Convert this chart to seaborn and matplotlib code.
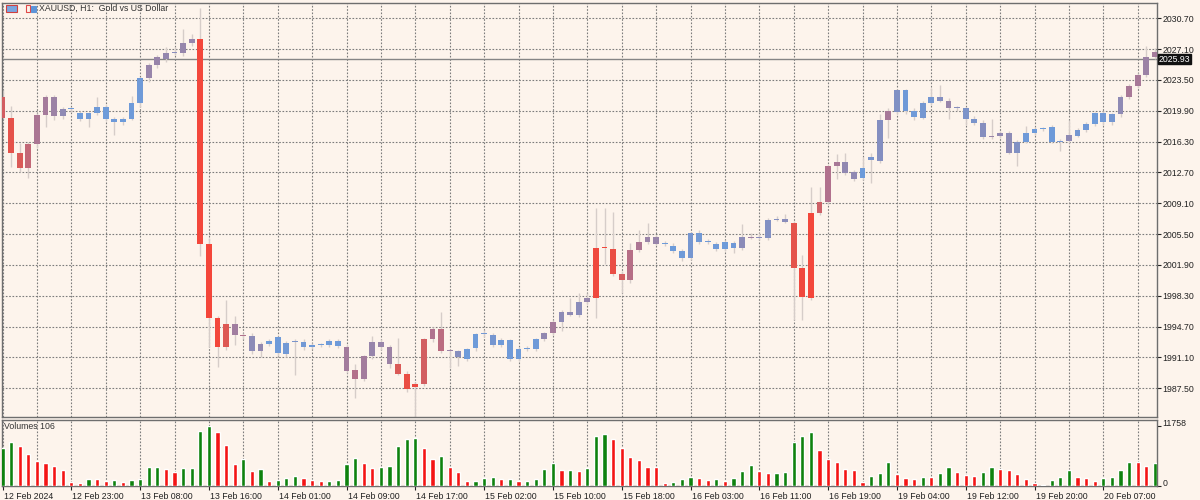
import numpy as np
import pandas as pd
import matplotlib.pyplot as plt
import seaborn as sns
from matplotlib.colors import LinearSegmentedColormap
from matplotlib.patches import Rectangle
from matplotlib.transforms import ScaledTranslation, blended_transform_factory

# XAUUSD H1 bars, 12 Feb 15:00 -> 20 Feb 13:00
opens = [2021.5, 2019.1, 2015.0, 2013.2, 2016.0, 2019.4, 2021.55, 2019.3, 2020.1, 2019.7,
         2018.95, 2019.6, 2020.4, 2018.9, 2018.6, 2019.0, 2020.8, 2023.7, 2025.25, 2025.9,
         2026.7, 2026.6, 2027.8, 2028.3, 2004.35, 1995.7, 1992.3, 1995.0, 1993.7, 1993.6,
         1991.85, 1992.7, 1993.45, 1991.5, 1992.95, 1992.3, 1992.55, 1992.55, 1992.5, 1993.0,
         1992.3, 1989.65, 1988.55, 1991.25, 1992.95, 1992.3, 1990.3, 1989.2, 1987.6, 1988.0,
         1993.2, 1994.4, 1991.85, 1991.85, 1990.95, 1992.2, 1993.8, 1993.7, 1992.55, 1993.1,
         1990.9, 1992.1, 1992.1, 1993.2, 1993.9, 1995.3, 1996.4, 1996.05, 1997.6, 1998.1,
         2003.85, 2003.75, 2000.8, 2000.2, 2003.7, 2004.6, 2005.2, 2004.4, 2004.1, 2003.55,
         2002.7, 2005.6, 2004.6, 2004.3, 2003.75, 2004.5, 2003.85, 2005.1, 2005.05, 2005.0,
         2007.2, 2007.3, 2006.75, 2001.5, 1998.0, 2008.0, 2009.2, 2013.4, 2013.9, 2012.7,
         2012.0, 2014.1, 2014.05, 2018.8, 2019.8, 2022.3, 2019.9, 2019.1, 2020.85, 2021.5,
         2021.1, 2020.2, 2020.2, 2018.95, 2018.45, 2016.8, 2016.95, 2017.35, 2015.0, 2016.3,
         2017.35, 2017.75, 2018.05, 2016.3, 2016.4, 2017.0, 2017.65, 2018.35, 2019.6, 2018.55,
         2019.5, 2021.55, 2022.85, 2024.1, 2026.15]
highs = [2022.3, 2020.5, 2016.1, 2016.3, 2019.6, 2021.8, 2021.7, 2020.4, 2020.4, 2019.9,
         2019.8, 2021.55, 2020.6, 2019.2, 2019.2, 2021.6, 2023.9, 2025.5, 2026.4, 2027.4,
         2027.3, 2029.5, 2028.9, 2031.9, 2005.0, 1995.9, 1997.8, 1995.9, 1994.0, 1993.9,
         1992.9, 1993.3, 1993.6, 1993.0, 1993.3, 1993.2, 1992.8, 1992.8, 1993.2, 1993.3,
         1992.5, 1990.3, 1991.4, 1993.6, 1993.2, 1992.6, 1993.4, 1989.5, 1988.2, 1993.4,
         1994.7, 1996.45, 1992.1, 1992.0, 1992.2, 1994.0, 1994.3, 1994.0, 1993.4, 1993.3,
         1992.3, 1992.4, 1993.4, 1994.1, 1995.5, 1996.7, 1998.0, 1998.6, 1998.6, 2008.5,
         2008.5, 2008.1, 2001.2, 2004.5, 2006.0, 2006.75, 2005.4, 2004.7, 2004.5, 2003.8,
         2005.8, 2006.0, 2004.9, 2004.6, 2004.8, 2004.7, 2006.7, 2005.6, 2005.6, 2007.4,
         2007.6, 2007.9, 2007.0, 2003.05, 2011.0, 2011.0, 2013.6, 2014.9, 2015.0, 2013.0,
         2014.5, 2015.0, 2019.5, 2020.2, 2022.5, 2022.5, 2020.2, 2021.0, 2022.6, 2022.9,
         2021.4, 2020.5, 2020.4, 2019.3, 2018.8, 2019.0, 2017.6, 2017.5, 2016.5, 2018.1,
         2018.0, 2018.0, 2018.3, 2016.6, 2018.8, 2017.9, 2018.6, 2019.8, 2019.9, 2019.7,
         2021.8, 2023.0, 2024.3, 2027.45, 2027.2]
lows = [2019.0, 2013.3, 2012.8, 2012.05, 2015.6, 2018.05, 2018.8, 2018.9, 2019.8, 2018.7,
        2018.0, 2019.4, 2018.7, 2017.1, 2018.3, 2018.8, 2020.4, 2023.3, 2024.9, 2025.6,
        2026.4, 2026.3, 2027.5, 2002.95, 1992.35, 1990.0, 1992.0, 1992.5, 1993.2, 1991.5,
        1991.2, 1992.4, 1991.3, 1991.2, 1989.05, 1992.0, 1992.1, 1992.3, 1992.3, 1992.2,
        1989.3, 1986.35, 1988.3, 1990.9, 1992.0, 1989.9, 1989.0, 1987.1, 1984.2, 1987.8,
        1992.9, 1991.6, 1989.85, 1990.1, 1990.7, 1991.9, 1993.5, 1992.3, 1992.3, 1990.7,
        1990.7, 1991.8, 1991.9, 1993.0, 1993.7, 1994.2, 1995.9, 1995.8, 1997.4, 1995.7,
        2002.0, 2000.6, 1998.6, 1999.8, 2003.4, 2004.3, 2004.2, 2004.1, 2003.3, 2002.4,
        2002.5, 2004.3, 2004.3, 2003.5, 2003.5, 2003.3, 2003.6, 2004.9, 2004.8, 2004.8,
        2007.0, 2006.8, 1995.5, 1995.5, 1997.8, 2007.7, 2009.0, 2011.9, 2012.4, 2011.7,
        2011.8, 2011.45, 2013.8, 2016.7, 2019.5, 2019.5, 2018.8, 2018.9, 2020.6, 2020.9,
        2019.0, 2019.9, 2018.2, 2018.2, 2016.6, 2016.6, 2016.7, 2014.9, 2013.4, 2016.1,
        2017.1, 2017.6, 2016.1, 2015.2, 2016.2, 2016.8, 2017.4, 2018.1, 2018.3, 2018.2,
        2019.2, 2021.3, 2022.6, 2023.9, 2025.9]
closes = [2019.1, 2015.0, 2013.2, 2016.0, 2019.4, 2021.55, 2019.3, 2020.1, 2020.2, 2018.95,
          2019.6, 2020.3, 2019.0, 2018.6, 2019.0, 2020.85, 2023.7, 2025.25, 2026.2, 2026.7,
          2026.75, 2027.8, 2028.3, 2004.35, 1995.67, 1992.3, 1995.0, 1993.7, 1993.6, 1991.85,
          1992.7, 1993.0, 1991.6, 1992.75, 1992.9, 1992.95, 1992.3, 1992.6, 1993.0, 1992.4,
          1989.5, 1988.55, 1991.25, 1992.95, 1992.3, 1990.3, 1989.2, 1987.45, 1988.0, 1993.2,
          1994.4, 1991.9, 1991.8, 1991.2, 1992.1, 1993.8, 1993.85, 1992.55, 1993.1, 1990.9,
          1992.1, 1992.2, 1993.2, 1993.9, 1995.3, 1996.45, 1996.05, 1997.6, 1998.0, 2003.85,
          2003.9, 2000.8, 2000.2, 2003.7, 2004.6, 2005.2, 2004.4, 2004.45, 2003.55, 2002.7,
          2005.6, 2004.6, 2004.55, 2003.75, 2004.55, 2003.85, 2005.2, 2005.15, 2005.0, 2007.2,
          2007.3, 2006.95, 2001.5, 1998.2, 2007.95, 2009.2, 2013.4, 2013.9, 2012.6, 2011.95,
          2013.2, 2014.55, 2018.8, 2019.85, 2022.3, 2019.85, 2019.15, 2020.85, 2021.5, 2021.1,
          2020.2, 2020.25, 2018.95, 2018.45, 2016.8, 2016.9, 2017.35, 2015.0, 2016.3, 2017.35,
          2017.75, 2017.85, 2016.3, 2016.4, 2017.1, 2017.65, 2018.35, 2019.6, 2018.55, 2019.5,
          2021.55, 2022.85, 2024.1, 2026.15, 2026.8]
volumes = [7380, 8690, 7840, 6340, 4965, 4510, 3920, 3135, 780, 590,
           1370, 1305, 980, 1110, 850, 1110, 1305, 3660, 3720, 3400,
           2810, 3530, 3560, 10710, 11758, 10580, 8035, 4245, 5355, 3005,
           3330, 980, 1175, 1570, 2025, 1570, 1175, 980, 990, 1175,
           4375, 5485, 4440, 3590, 3660, 3920, 7840, 9145, 9340, 7380,
           5290, 5945, 3790, 2680, 915, 930, 1635, 1830, 1305, 1320,
           940, 960, 1370, 3330, 4510, 3070, 3140, 2875, 3525, 9735,
           10125, 9210, 7445, 5685, 5030, 3790, 3660, 590, 785, 1305,
           1830, 1570, 1175, 1370, 1045, 1500, 2940, 4115, 2875, 2480,
           2545, 2810, 8620, 9800, 10645, 7055, 5355, 4770, 3265, 3200,
           850, 1895, 2545, 4640, 2350, 1500, 1435, 1765, 1700, 2615,
           3660, 2680, 2155, 2025, 2680, 3725, 3265, 3070, 2415, 1370,
           655, 260, 1175, 1765, 3135, 1765, 1500, 980, 1500, 1765,
           3135, 4770, 4705, 3920, 4505]

price_ticks = [2030.70, 2027.10, 2023.50, 2019.90, 2016.30, 2012.70, 2009.10,
               2005.50, 2001.90, 1998.30, 1994.70, 1991.10, 1987.50]
time_labels = ["12 Feb 2024", "12 Feb 23:00", "13 Feb 08:00", "13 Feb 16:00", "14 Feb 01:00",
               "14 Feb 09:00", "14 Feb 17:00", "15 Feb 02:00", "15 Feb 10:00", "15 Feb 18:00",
               "16 Feb 03:00", "16 Feb 11:00", "16 Feb 19:00", "19 Feb 04:00", "19 Feb 12:00",
               "19 Feb 20:00", "20 Feb 07:00"]
last_price = 2025.93
last_tick_volume = 106
max_volume = 11758

bg = "#fdf4ec"
grid_color = "#7c7c7c"
frame_color = "#6e6e6e"
sns.set_style("white", {"axes.facecolor": bg, "figure.facecolor": bg,
                        "axes.edgecolor": frame_color})
plt.rcParams["font.family"] = ["Liberation Sans", "DejaVu Sans"]

fig = plt.figure(figsize=(12, 5), dpi=100)
ax = fig.add_axes([2 / 1200, 83 / 500, 1155 / 1200, 414 / 500])
vax = fig.add_axes([2 / 1200, 14 / 500, 1155 / 1200, 66 / 500])

idx = np.arange(len(closes))
o = np.array(opens)
c = np.array(closes)
vol = np.array(volumes)

# candles are tinted by tick volume: quiet = blue, busy = red
vol_cmap = LinearSegmentedColormap.from_list(
    "vol", [(0.0, "#6b9cdc"), (0.12, "#6f9ad8"), (0.3, "#9686ac"), (0.45, "#b0728e"),
            (0.7, "#e0564f"), (0.85, "#f2473b"), (1.0, "#f4463a")])
candle_colors = vol_cmap(vol / vol.max())

body_lo = np.minimum(o, c)
body_h = np.maximum(np.abs(c - o), 0.12)

ax.vlines(idx, lows, highs, color="#d6cdc9", lw=1, zorder=2)
ax.bar(idx, body_h, bottom=body_lo, width=0.68, color=candle_colors, linewidth=0, zorder=3)

ax.axhline(last_price, color="#858585", lw=1, zorder=1.5)

xlim = (-0.06, 134.24)
ax.set_xlim(*xlim)
ax.set_ylim(1984.15, 2032.49)

ax.set_xticks(range(0, len(closes), 4))
ax.tick_params(axis="x", length=0, labelbottom=False)
ax.yaxis.tick_right()
ax.set_yticks(price_ticks)
ax.set_yticklabels([f"{p:.2f}" for p in price_ticks])
ax.tick_params(axis="y", length=3, width=0.8, pad=1, labelsize=6.3, colors="#222222",
               right=True)
ax.grid(True, color=grid_color, linestyle=(0, (1.5, 1.5)), linewidth=0.8)
ax.set_axisbelow(True)
for s in ax.spines.values():
    s.set_color(frame_color)
    s.set_linewidth(1)

# bid label on the price scale
trans = blended_transform_factory(ax.transAxes, ax.transData)
ax.text(1.0015, last_price, f"{last_price:.2f}", transform=trans, ha="left", va="center",
        fontsize=6.3, color="white",
        bbox=dict(boxstyle="square,pad=0.08", fc="#111111", ec="#111111"), zorder=5,
        clip_on=False)

# little toolbar icons before the symbol name
fig.patches.append(Rectangle((6 / 1200, 1 - 12 / 500), 11 / 1200, 7 / 500,
                             transform=fig.transFigure, fc="#7aa6e0", ec="#d04040", lw=0.8))
fig.patches.append(Rectangle((26 / 1200, 1 - 12 / 500), 4 / 1200, 7 / 500,
                             transform=fig.transFigure, fc="none", ec="#e04848", lw=0.8))
fig.patches.append(Rectangle((31 / 1200, 1 - 12 / 500), 5 / 1200, 6 / 500,
                             transform=fig.transFigure, fc="#5d94d8", ec="#5d94d8", lw=0.8))
fig.text(39 / 1200, 1 - 8 / 500, "XAUUSD, H1:  Gold vs US Dollar", fontsize=6.3,
         color="#333333", ha="left", va="center")

# volume panel: green when volume grows vs previous bar, red when it shrinks
rising = ["up"] + ["up" if b > a else "down" for a, b in zip(volumes[:-1], volumes[1:])]
vol_df = pd.DataFrame({"bar": idx, "volume": volumes, "rising": rising})
sns.barplot(data=vol_df, x="bar", y="volume", hue="rising", native_scale=True, dodge=False,
            palette={"up": "#0e820e", "down": "#f41414"}, width=0.5, saturation=1,
            errorbar=None, legend=False, ax=vax, zorder=3)
vax.set_xlim(*xlim)
vax.set_ylim(0, max_volume * 66 / 60)
vax.set_xlabel("")
vax.set_ylabel("")
vax.set_xticks(range(0, len(closes), 8))
vax.set_xticklabels(time_labels)
vax.set_xticks(range(4, len(closes), 8), minor=True)
vax.tick_params(axis="x", which="major", length=3, width=0.8, pad=1, labelsize=6.3,
                colors="#222222", bottom=True)
vax.tick_params(axis="x", which="minor", length=0)
shift = ScaledTranslation(1 / 100, 0, fig.dpi_scale_trans)
for lbl in vax.get_xticklabels():
    lbl.set_ha("left")
    lbl.set_transform(lbl.get_transform() + shift)
vax.yaxis.tick_right()
vax.set_yticks([0, max_volume])
vax.set_yticklabels(["0", str(max_volume)])
vax.tick_params(axis="y", length=3, width=0.8, pad=1, labelsize=6.3, colors="#222222",
                right=True)
up_shift = ScaledTranslation(0, 3.5 / 100, fig.dpi_scale_trans)
for lbl in vax.get_yticklabels():
    lbl.set_transform(lbl.get_transform() + up_shift)
vax.grid(True, axis="x", which="both", color=grid_color, linestyle=(0, (1.5, 1.5)),
         linewidth=0.8)
vax.set_axisbelow(True)
for s in vax.spines.values():
    s.set_color(frame_color)
    s.set_linewidth(1)
vax.text(0.002, 0.9, f"Volumes {last_tick_volume}", transform=vax.transAxes,
         fontsize=6.3, color="#333333", ha="left", va="center")

fig.savefig("out.png", dpi=100, facecolor=bg)
